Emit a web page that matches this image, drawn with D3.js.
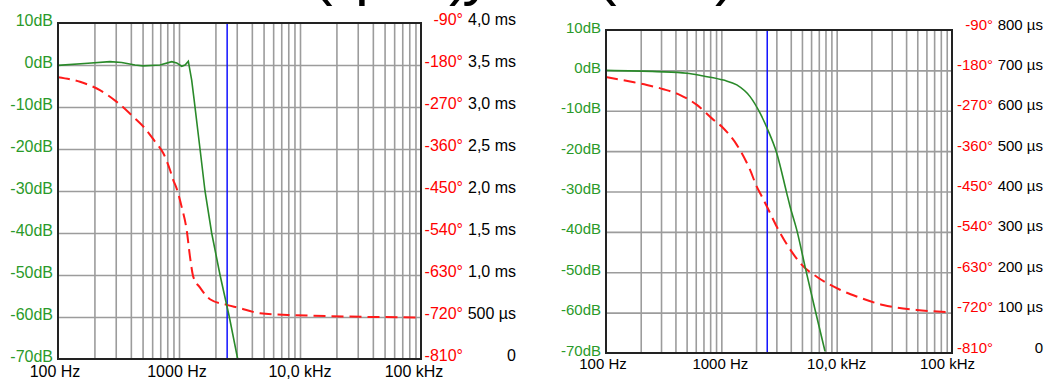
<!DOCTYPE html>
<html>
<head>
<meta charset="utf-8">
<script src="https://cdn.jsdelivr.net/npm/d3@7"></script>
<style>
  body { margin: 0; background: #fff; }
  svg { display: block; font-family: "Liberation Sans", Arial, sans-serif; }
</style>
</head>
<body>
<div class="content"></div>
<script>
// axis values
var freqTicks = [100, 1000, 10000, 100000];
var freqLabels = ["100 Hz", "1000 Hz", "10,0 kHz", "100 kHz"];
var dbTicks = [10, 0, -10, -20, -30, -40, -50, -60, -70];
var phaseTicks = [-90, -180, -270, -360, -450, -540, -630, -720, -810];
var delayLabelsL = ["4,0 ms", "3,5 ms", "3,0 ms", "2,5 ms", "2,0 ms", "1,5 ms", "1,0 ms", "500 µs", "0"];
var delayLabelsR = ["800 µs", "700 µs", "600 µs", "500 µs", "400 µs", "300 µs", "200 µs", "100 µs", "0"];
var markerFreq = 2500;

// left chart: magnitude (dB) and phase (deg)
var magFreqL = [100, 177, 269, 336, 433, 504, 697, 871, 957, 1052, 1122, 1194, 1273, 1330, 1492, 1640, 1862, 2183, 2606, 3055];
var magL     = [-0.1, 0.4, 0.8, 0.6, 0, -0.2, 0, 0.8, 0.5, -0.3, 0, 0.9, -3.6, -8, -20, -30, -40, -50, -60, -70];
var phaseFreqL = [100, 152, 222, 306, 419, 524, 633, 742, 843, 892, 957, 1052, 1158, 1233, 1313, 1492, 1804, 2478, 3192, 4090, 4667, 8750, 100000];
var phaseL     = [-206, -216, -234, -259, -291, -316, -344, -369, -405, -425, -445, -484, -534, -591, -634, -657, -682, -694, -701, -709, -712, -716, -721];

// right chart
var magFreqR = [100, 276, 503, 700, 1042, 1362, 1775, 2168, 2528, 3024, 3690, 3943, 4508, 5319, 6498, 7927];
var magR     = [0, -0.3, -0.7, -1.4, -2.4, -3.6, -6.5, -10.6, -14.7, -20.5, -30.4, -33.7, -39.5, -48.6, -59.3, -69.6];
var phaseFreqR = [100, 162, 226, 315, 440, 614, 827, 1042, 1362, 1775, 2028, 2244, 2478, 3119, 3808, 5140, 6714, 10690, 14900, 25300, 49300, 95700];
var phaseR     = [-195, -205, -212.5, -222, -235, -257, -287, -309, -346, -402, -439, -461, -483, -535, -573, -617, -640, -669, -684, -703, -714, -719];

var svg = d3.select(".content").append("svg")
  .attr("width", 1047)
  .attr("height", 379);

var defs = svg.append("defs");

// title, only its lower part is inside the picture
var title = svg.append("text")
  .attr("y", -7)
  .attr("font-size", "62px")
  .attr("fill", "#000");
title.append("tspan").attr("x", 312).text("(");
title.append("tspan").attr("x", 333).text("Am");
title.append("tspan").attr("x", 355).text("plitude");
title.append("tspan").attr("x", 449).text(")");
title.append("tspan").attr("x", 445).text(" y Phase");

var title2 = svg.append("text")
  .attr("y", -7)
  .attr("font-size", "62px")
  .attr("fill", "#000");
title2.append("tspan").attr("x", 596).text("(");
title2.append("tspan").attr("x", 617).text("Bessel");
title2.append("tspan").attr("x", 715).text(")");

function drawPanel(p) {
  var x = d3.scaleLog().domain([100, 100000]).range([p.x0, p.x1]);
  var yDb = d3.scaleLinear().domain([10, -70]).range([p.y0, p.y1]);
  var yPh = d3.scaleLinear().domain([-90, -810]).range([p.y0, p.y1]);

  var minor = [];
  for (var dec = 100; dec < 100000; dec *= 10) {
    for (var k = 2; k <= 10; k++) {
      if (dec * k < 100000) minor.push(dec * k);
    }
  }

  var g = svg.append("g").attr("font-size", p.font + "px");

  // vertical grid
  g.append("g")
    .attr("transform", "translate(0," + p.y1 + ")")
    .call(d3.axisBottom(x).tickValues(minor).tickSize(-(p.y1 - p.y0)).tickFormat(""))
    .call(function (a) {
      a.select(".domain").remove();
      a.selectAll("line").attr("stroke", "#9c9c9c").attr("stroke-width", 1.6);
    });

  // horizontal grid
  g.append("g")
    .attr("transform", "translate(" + p.x0 + ",0)")
    .call(d3.axisLeft(yDb).tickValues(dbTicks.slice(1, -1)).tickSize(-(p.x1 - p.x0)).tickFormat(""))
    .call(function (a) {
      a.select(".domain").remove();
      a.selectAll("line").attr("stroke", "#9c9c9c").attr("stroke-width", 1.6);
    });

  defs.append("clipPath").attr("id", "clip" + p.id)
    .append("rect")
    .attr("x", p.x0).attr("y", p.y0)
    .attr("width", p.x1 - p.x0).attr("height", p.y1 - p.y0);

  var plot = g.append("g").attr("clip-path", "url(#clip" + p.id + ")");

  plot.append("line")
    .attr("x1", x(markerFreq)).attr("x2", x(markerFreq))
    .attr("y1", p.y0).attr("y2", p.y1)
    .attr("stroke", "#1010ff")
    .attr("stroke-width", 1.5);

  var phaseLine = d3.line()
    .x(function (d) { return x(d[0]); })
    .y(function (d) { return yPh(d[1]); })
    .curve(d3.curveMonotoneX);

  plot.append("path")
    .datum(d3.zip(p.phaseFreq, p.phase))
    .attr("d", phaseLine)
    .attr("fill", "none")
    .attr("stroke", "#ff1a1a")
    .attr("stroke-width", 2)
    .attr("stroke-dasharray", "12,6");

  var magLine = d3.line()
    .x(function (d) { return x(d[0]); })
    .y(function (d) { return yDb(d[1]); })
    .curve(p.magCurve);

  plot.append("path")
    .datum(d3.zip(p.magFreq, p.mag))
    .attr("d", magLine)
    .attr("fill", "none")
    .attr("stroke", "#2a8a2a")
    .attr("stroke-width", 1.6);

  // frame
  g.append("rect")
    .attr("x", p.x0).attr("y", p.y0)
    .attr("width", p.x1 - p.x0).attr("height", p.y1 - p.y0)
    .attr("fill", "none")
    .attr("stroke", "#222")
    .attr("stroke-width", 2);

  // dB labels
  g.selectAll(".db")
    .data(dbTicks)
    .enter().append("text")
    .attr("x", p.x0 - 5)
    .attr("y", function (d) { return yDb(d) + 2.5; })
    .attr("text-anchor", "end")
    .attr("fill", "#2a9a2a")
    .text(function (d) { return d + "dB"; });

  // phase labels
  g.selectAll(".ph")
    .data(phaseTicks)
    .enter().append("text")
    .attr("x", p.phaseRight)
    .attr("y", function (d) { return yPh(d) + p.rightDy; })
    .attr("text-anchor", "end")
    .attr("fill", "#ff0000")
    .text(function (d) { return d + "°"; });

  // delay labels
  g.selectAll(".dl")
    .data(p.delay)
    .enter().append("text")
    .attr("x", p.delayRight)
    .attr("y", function (d, i) { return yPh(phaseTicks[i]) + p.rightDy; })
    .attr("text-anchor", "end")
    .attr("fill", "#000")
    .text(function (d) { return d; });

  // frequency labels
  g.selectAll(".fq")
    .data(freqTicks)
    .enter().append("text")
    .attr("x", function (d, i) { return x(d) + p.tickShift[i]; })
    .attr("y", p.y1 + p.bottomDy)
    .attr("text-anchor", "middle")
    .attr("fill", "#000")
    .text(function (d, i) { return freqLabels[i]; });
}

drawPanel({
  id: "L", x0: 58, x1: 421, y0: 23, y1: 359, font: 16,
  phaseRight: 463, delayRight: 516, rightDy: 1.5, bottomDy: 18,
  tickShift: [-3, -2, 0, -7],
  magFreq: magFreqL, mag: magL, phaseFreq: phaseFreqL, phase: phaseL,
  magCurve: d3.curveLinear, delay: delayLabelsL
});

drawPanel({
  id: "R", x0: 606, x1: 952, y0: 30, y1: 353, font: 15,
  phaseRight: 993, delayRight: 1043, rightDy: -0.5, bottomDy: 16,
  tickShift: [-3, -1, 0, -4.5],
  magFreq: magFreqR, mag: magR, phaseFreq: phaseFreqR, phase: phaseR,
  magCurve: d3.curveMonotoneX, delay: delayLabelsR
});
</script>
</body>
</html>
